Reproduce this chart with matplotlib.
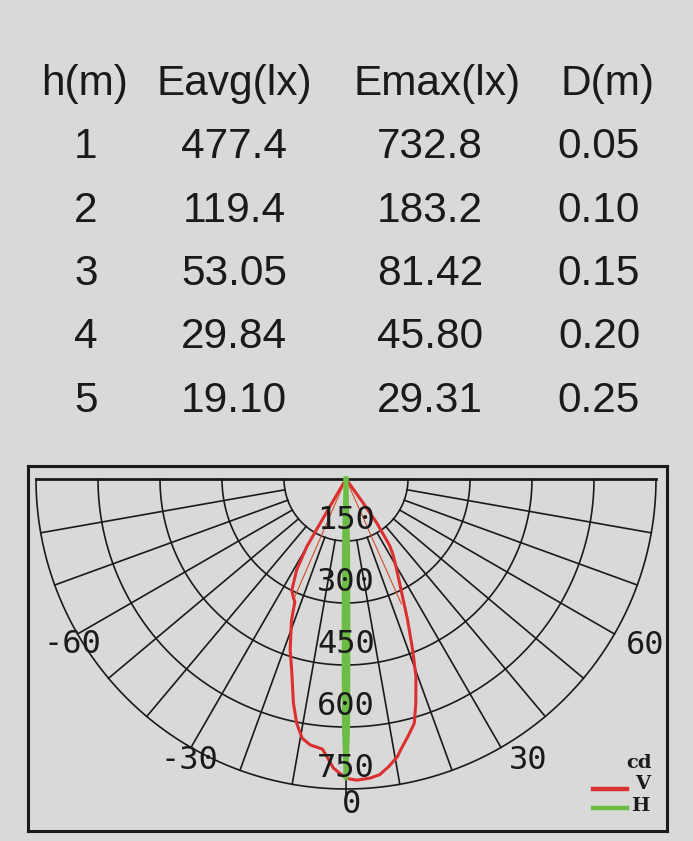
import numpy as np
import matplotlib.pyplot as plt

# ---- table data ----
headers = ['h(m)', 'Eavg(lx)', 'Emax(lx)', 'D(m)']
heights = ['1', '2', '3', '4', '5']
eavg = ['477.4', '119.4', '53.05', '29.84', '19.10']
emax = ['732.8', '183.2', '81.42', '45.80', '29.31']
diam = ['0.05', '0.10', '0.15', '0.20', '0.25']

# ---- polar diagram data (angle in deg, intensity in cd) ----
rings = [150, 300, 450, 600, 750]
spokes = [-80, -70, -60, -50, -40, -30, -20, -10, 10, 20, 30, 40, 50, 60, 70, 80]

v_angles = [-31.0, -30.3, -30.2, -30.1, -28.5, -26.0, -23.8, -22.6, -21.1, -18.1,
            -15.9, -13.2, -11.4, -9.6, -7.7, -5.0, -4.0, -2.5, -0.8, 0.0,
            2.0, 4.6, 6.5, 8.5, 10.5, 11.3, 13.5, 15.6, 17.3, 19.5,
            21.3, 23.6, 26.4, 29.7, 32.1, 33.3, 34.0, 35.0, 35.6, 36.0]
v_cd = [0, 80, 140, 189, 250, 299, 315, 322, 366, 435,
        480, 557, 603, 636, 649, 656, 672, 700, 716, 724,
        729, 726, 720, 703, 683, 670, 641, 614, 568, 507,
        444, 372, 300, 244, 212, 191, 160, 130, 70, 0]

# thin lines from the centre
thin_angles = [[-23.5, -23.5], [23.9, 23.9]]
thin_cd = [[0, 318], [0, 330]]

h_angles = [-3.0, -1.5, -0.8, -0.4, 0.0, 0.4, 0.8, 1.5, 3.0]
h_cd = [0, 150, 350, 600, 724, 600, 350, 150, 0]

angle_labels = ['-60', '-30', '0', '30', '60']
angle_label_x = [-663, -380, 14, 440, 723]
angle_label_y = [-421, -702, -808, -702, -423]

bg = '#d9d9d9'
ink = '#1a1a1a'
red = '#dc2f2f'
green = '#6cbd45'

W, H = 693, 841
fig = plt.figure(figsize=(W / 100, H / 100), dpi=100, facecolor=bg)

# ---- table ----
head_x = [85, 234, 437, 607]
col_x = [86, 234, 430, 599]
row_y = [158, 221.5, 285, 348.5, 412]
tfont = dict(family='Liberation Sans', fontsize=30.5, color=ink, ha='center', va='baseline')
for hx, t in zip(head_x, headers):
    fig.text(hx / W, 1 - 95 / H, t, **tfont)
for i, row in enumerate(zip(heights, eavg, emax, diam)):
    for cx, t in zip(col_x, row):
        fig.text(cx / W, 1 - row_y[i] / H, t, **tfont)

# ---- polar diagram ----
cx0, cy0, rpx = 346, 479, 310
k = rpx / 750.0
ax = fig.add_axes([28 / W, 1 - 831 / H, 639 / W, 365 / H])
ax.set_facecolor(bg)
ax.set_xlim(-(cx0 - 28) / k, (667 - cx0) / k)
ax.set_ylim(-(831 - cy0) / k, (cy0 - 466) / k)
ax.set_xticks([])
ax.set_yticks([])
for s in ax.spines.values():
    s.set_linewidth(2.2)
    s.set_color(ink)


def pol(a, r):
    a = np.radians(np.asarray(a, dtype=float))
    r = np.asarray(r, dtype=float)
    return r * np.sin(a), -r * np.cos(a)


t = np.linspace(-90, 90, 361)
for r in rings:
    x, y = pol(t, np.full_like(t, r))
    ax.plot(x, y, color=ink, lw=1.2)
for a in spokes:
    x, y = pol([a, a], [rings[0], rings[-1]])
    ax.plot(x, y, color=ink, lw=1.2)
x, y = pol([0, 0], [0, 765])
ax.plot(x, y, color=ink, lw=1.2)
ax.plot([-rings[-1], rings[-1]], [0, 0], color=ink, lw=2.0)

for r in rings:
    ax.text(0, -(r - 29), str(r), family='DejaVu Sans Mono', fontsize=23,
            color=ink, ha='center', va='baseline')
for lbl, lx, ly in zip(angle_labels, angle_label_x, angle_label_y):
    ax.text(lx, ly, lbl, family='DejaVu Sans Mono', fontsize=23,
            color=ink, ha='center', va='baseline')

for ta, tc in zip(thin_angles, thin_cd):
    x, y = pol(ta, tc)
    ax.plot(x, y, color='#d0502a', lw=0.8)

x, y = pol(v_angles, v_cd)
ax.plot(x, y, color=red, lw=2.2, solid_joinstyle='round')
x, y = pol(h_angles, h_cd)
ax.plot(x, y, color=green, lw=3.4, solid_joinstyle='round')

# ---- legend ----
ax.plot([598, 680], [-750, -750], color=red, lw=3.2)
ax.plot([598, 680], [-796, -796], color=green, lw=3.2)
lfont = dict(family='DejaVu Serif', weight='bold', fontsize=14, color=ink,
             ha='right', va='baseline')
ax.text(740, -700, 'cd', **lfont)
ax.text(735, -750, 'V', **lfont)
ax.text(735, -803, 'H', **lfont)

fig.savefig('out.png', dpi=100, facecolor=bg)
